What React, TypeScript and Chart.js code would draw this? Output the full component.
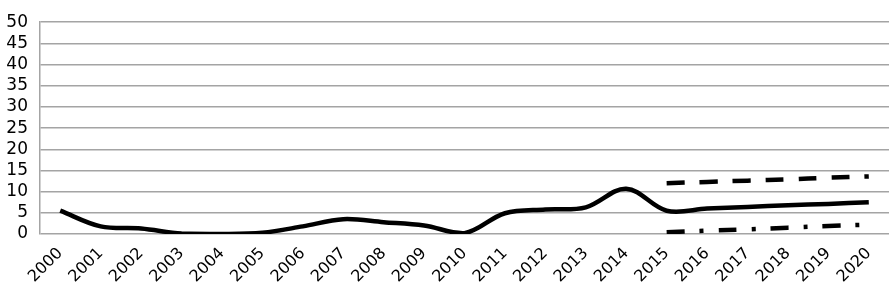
import React, { useEffect, useRef } from "react";
import { Chart, registerables } from "chart.js";

Chart.register(...registerables);

const years = ["2000","2001","2002","2003","2004","2005","2006","2007","2008","2009","2010","2011","2012","2013","2014","2015","2016","2017","2018","2019","2020"];
const actual = [5.5, 1.8, 1.3, 0.1, 0.0, 0.3, 1.8, 3.5, 2.8, 2.0, 0.2, 4.9, 5.8, 6.3, 10.7, 5.5, 6.0, 6.4, 6.8, 7.1, 7.5];
const upper = [null, null, null, null, null, null, null, null, null, null, null, null, null, null, null, 12.0, 12.3, 12.6, 12.9, 13.3, 13.6];
const lower = [null, null, null, null, null, null, null, null, null, null, null, null, null, null, null, 0.4, 0.8, 1.1, 1.5, 1.9, 2.2];
const yMin = 0;
const yMax = 50;
const yStep = 5;

export default function App() {
  const ref = useRef<HTMLCanvasElement | null>(null);
  useEffect(() => {
    if (!ref.current) return;
    const chart = new Chart(ref.current, {
      type: "line",
      data: {
        labels: years,
        datasets: [
          { data: actual, borderColor: "#000", borderWidth: 4.5, pointRadius: 0, tension: 0.35, fill: false },
          { data: upper, borderColor: "#000", borderWidth: 4.5, pointRadius: 0, tension: 0.35, fill: false, borderDash: [18, 15] },
          { data: lower, borderColor: "#000", borderWidth: 4.5, pointRadius: 0, tension: 0.35, fill: false, borderDash: [18, 15, 4, 15] },
        ],
      },
      options: {
        animation: false,
        responsive: false,
        maintainAspectRatio: false,
        layout: { padding: { top: 7, right: 0, left: 0, bottom: 0 } },
        plugins: { legend: { display: false }, tooltip: { enabled: false } },
        scales: {
          x: {
            offset: true,
            grid: { display: false },
            border: { display: false },
            ticks: {
              color: "#000",
              font: { family: "DejaVu Sans", size: 16 },
              maxRotation: 45,
              minRotation: 45,
              autoSkip: false,
              padding: 2,
            },
            afterFit: (s: any) => { s.height = 57; },
          },
          y: {
            min: yMin,
            max: yMax,
            grid: { color: "#a4a4a4", lineWidth: 1.5, drawTicks: false },
            border: { display: true, color: "#a4a4a4", width: 1.5 },
            ticks: {
              stepSize: yStep,
              autoSkip: false,
              color: "#000",
              font: { family: "DejaVu Sans", size: 17 },
              padding: 12,
            },
            afterFit: (s: any) => { s.width = 40; },
          },
        },
      },
    });
    return () => chart.destroy();
  }, []);
  return (
    <div style={{ position: "fixed", left: 0, top: 0, width: 889, height: 291, background: "#fff" }}>
      <canvas ref={ref} width={889} height={291} style={{ width: 889, height: 291 }} />
    </div>
  );
}
